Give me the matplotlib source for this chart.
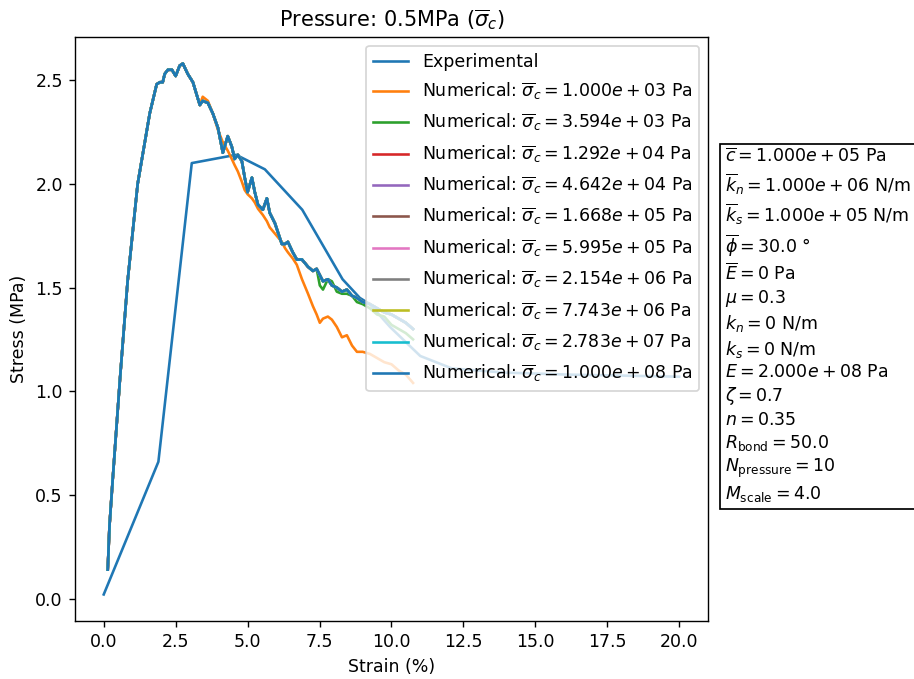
import matplotlib
matplotlib.use("Agg")
import matplotlib.pyplot as plt
import numpy as np

# experimental curve
exp_strain = [0.0, 1.9, 3.06, 4.6, 5.6, 6.9, 8.3, 8.9, 9.25, 9.95, 11.0, 12.1, 13.9, 16.2, 20.0]
exp_stress = [0.02, 0.66, 2.10, 2.14, 2.07, 1.875, 1.54, 1.45, 1.42, 1.31, 1.17, 1.11, 1.09, 1.08, 1.07]

# numerical curves (shared strain grid)
num_strain = [0.14, 0.2, 0.31, 0.56, 0.83, 1.18, 1.6, 1.84, 1.95, 2.05, 2.12, 2.23, 2.37, 2.5,
              2.64, 2.75, 2.92, 3.1, 3.23, 3.34, 3.44, 3.62, 3.79, 3.97, 4.14, 4.31, 4.45, 4.55,
              4.66, 4.8, 4.9, 5.0, 5.15, 5.25, 5.36, 5.53, 5.67, 5.77, 5.95, 6.19, 6.3, 6.4,
              6.57, 6.71, 6.89, 7.1, 7.27, 7.4, 7.51, 7.62, 7.79, 7.93, 8.1, 8.28, 8.45, 8.63,
              8.8, 9.0, 9.25, 9.5, 9.75, 10.0, 10.25, 10.5, 10.75]

stress_low = [0.14, 0.35, 0.57, 1.05, 1.53, 2.0, 2.34, 2.48, 2.49, 2.49, 2.53, 2.55, 2.55, 2.52,
              2.57, 2.58, 2.53, 2.49, 2.43, 2.38, 2.42, 2.40, 2.34, 2.26, 2.20, 2.16, 2.12, 2.09,
              2.06, 2.01, 1.97, 1.95, 1.93, 1.91, 1.88, 1.85, 1.82, 1.79, 1.76, 1.72, 1.69, 1.67,
              1.64, 1.61, 1.54, 1.47, 1.41, 1.37, 1.33, 1.35, 1.36, 1.345, 1.31, 1.26, 1.27, 1.22,
              1.19, 1.19, 1.18, 1.16, 1.14, 1.13, 1.10, 1.08, 1.04]

stress_mid = [0.14, 0.35, 0.57, 1.05, 1.53, 2.0, 2.34, 2.48, 2.49, 2.49, 2.53, 2.55, 2.55, 2.52,
              2.57, 2.58, 2.53, 2.49, 2.43, 2.38, 2.40, 2.39, 2.34, 2.27, 2.15, 2.23, 2.18, 2.12,
              2.14, 2.11, 2.03, 1.96, 2.03, 1.96, 1.90, 1.875, 1.93, 1.86, 1.81, 1.71, 1.71, 1.72,
              1.67, 1.635, 1.635, 1.60, 1.58, 1.59, 1.51, 1.49, 1.54, 1.53, 1.48, 1.47, 1.47, 1.46,
              1.43, 1.42, 1.40, 1.37, 1.36, 1.32, 1.30, 1.28, 1.25]

stress_high = [0.14, 0.35, 0.57, 1.05, 1.53, 2.0, 2.34, 2.48, 2.49, 2.49, 2.53, 2.55, 2.55, 2.52,
               2.57, 2.58, 2.53, 2.49, 2.43, 2.38, 2.40, 2.39, 2.34, 2.27, 2.15, 2.23, 2.18, 2.12,
               2.14, 2.11, 2.03, 1.96, 2.03, 1.96, 1.90, 1.875, 1.93, 1.86, 1.81, 1.71, 1.71, 1.72,
               1.67, 1.635, 1.635, 1.60, 1.58, 1.59, 1.56, 1.53, 1.54, 1.51, 1.50, 1.48, 1.49, 1.46,
               1.45, 1.43, 1.42, 1.40, 1.38, 1.37, 1.35, 1.33, 1.30]

sigma_c = ['1.000e+03', '3.594e+03', '1.292e+04', '4.642e+04', '1.668e+05',
           '5.995e+05', '2.154e+06', '7.743e+06', '2.783e+07', '1.000e+08']
num_stress = [stress_low, stress_mid] + [stress_high] * 8

params = [r'$\overline{c} = 1.000e+05$ Pa',
          r'$\overline{k}_n = 1.000e+06$ N/m',
          r'$\overline{k}_s = 1.000e+05$ N/m',
          r'$\overline{\phi} = 30.0$ °',
          r'$\overline{E} = 0$ Pa',
          r'$\mu = 0.3$',
          r'$k_n = 0$ N/m',
          r'$k_s = 0$ N/m',
          r'$E = 2.000e+08$ Pa',
          r'$\zeta = 0.7$',
          r'$n = 0.35$',
          r'$R_{\mathrm{bond}} = 50.0$',
          r'$N_{\mathrm{pressure}} = 10$',
          r'$M_{\mathrm{scale}} = 4.0$']

fig = plt.figure(figsize=(914 / 125, 679 / 125), dpi=125)
ax = fig.add_axes([0.082, 0.0854, 0.6926, 0.8601])

ax.plot(exp_strain, exp_stress, label='Experimental')
for s, y in zip(sigma_c, num_stress):
    ax.plot(num_strain, y, label=r'Numerical: $\overline{\sigma}_c = %s$ Pa' % s)

ax.set_title(r'Pressure: 0.5MPa ($\overline{\sigma}_c$)')
ax.set_xlabel('Strain (%)')
ax.set_ylabel('Stress (MPa)')
ax.set_xticks(np.arange(0, 20.1, 2.5))
ax.legend(loc='upper right', labelspacing=0.58)

fig.text(0.7935, 0.52, '\n'.join(params), ha='left', va='center', linespacing=1.26,
         bbox=dict(boxstyle='square', facecolor='white', edgecolor='black'))

fig.savefig('out.png', dpi=125)
